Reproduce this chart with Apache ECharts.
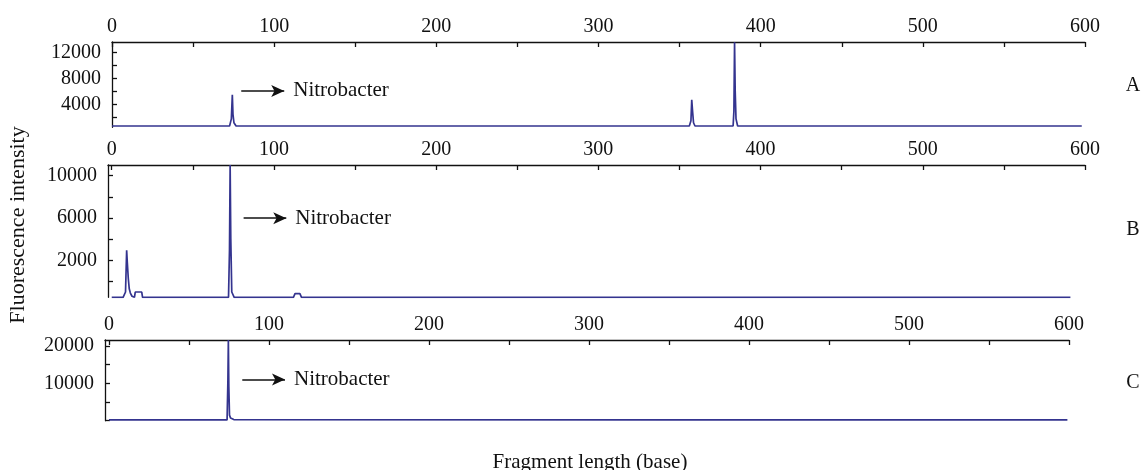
<!DOCTYPE html>
<html>
<head>
<meta charset="utf-8">
<script src="https://cdn.jsdelivr.net/npm/echarts@6/dist/echarts.min.js"></script>
<style>
html,body{margin:0;padding:0;background:#fff;}
#chart{width:1143px;height:470px;}
</style>
</head>
<body>
<div id="chart"></div>
<script>
// ---- Data (fragment length in bases, fluorescence intensity) ----
var lengthA = [0, 43, 44, 45, 72.5, 73.6, 74.2, 74.6, 75.2, 76.5, 356, 357, 357.5, 358, 358.6, 359.5, 383, 383.5, 383.9, 384.3, 384.8, 385.8, 598];
var intensityA = [700, 700, 850, 700, 700, 1800, 5500, 2500, 1200, 700, 700, 1500, 4750, 3000, 1200, 700, 700, 3000, 13600, 6000, 1800, 700, 700];

var lengthB = [0, 7, 8.5, 9.2, 9.6, 10.2, 10.8, 11.5, 12.5, 14, 14.5, 18.5, 19, 72, 72.6, 73, 73.4, 74, 75.5, 112, 113, 116, 117, 132, 133, 190, 191, 591];
var intensityB = [-1500, -1500, -1000, 2950, 1800, 300, -700, -1100, -1400, -1500, -1000, -1000, -1500, -1500, 3000, 11000, 4000, -1000, -1500, -1500, -1150, -1150, -1500, -1500, -1400, -1500, -1420, -1500];

var lengthC = [0, 15, 15.6, 16.2, 23.5, 24, 24.5, 42, 42.6, 43.2, 73.8, 74.3, 74.6, 74.9, 75.3, 76, 77, 78, 79, 355, 356, 357, 599];
var intensityC = [200, 200, 600, 200, 200, 600, 200, 200, 550, 200, 200, 10500, 21600, 9000, 1500, 700, 600, 300, 200, 200, 450, 200, 200];

// tick values
var xTicks = [0, 50, 100, 150, 200, 250, 300, 350, 400, 450, 500, 550, 600];
var xLabels = [0, 100, 200, 300, 400, 500, 600];
var yTicksA = [2000, 4000, 6000, 8000, 10000, 12000];
var yLabelsA = [4000, 8000, 12000];
var yTicksB = [0, 2000, 4000, 6000, 8000, 10000];
var yLabelsB = [2000, 6000, 10000];
var yTicksC = [0, 5000, 10000, 15000, 20000];
var yLabelsC = [10000, 20000];

// annotation arrows (data coords: [x start, x end, y])
var arrowA = [79.7, 106.2, 6100];
var arrowB = [81.3, 107.6, 5970];
var arrowC = [83.3, 110, 11040];
var annotationText = 'Nitrobacter';
var panelNames = ['A', 'B', 'C'];
var yTitle = 'Fluorescence intensity';
var xTitle = 'Fragment length (base)';

function zip(xs, ys) { return xs.map(function (x, i) { return [x, ys[i]]; }); }

var FONT = 'Liberation Serif';
var INK = '#111';
function plain(v) { return String(v); }

function xAxisFor(gi, min) {
  return {
    type: 'value', gridIndex: gi, position: 'top', min: min, max: 600,
    axisLine: { show: true, onZero: false, lineStyle: { color: INK, width: 1.3 } },
    axisTick: { show: true, inside: true, length: 5, customValues: xTicks, lineStyle: { color: INK, width: 1.3 } },
    axisLabel: { show: true, customValues: xLabels, formatter: plain, fontFamily: FONT, fontSize: 20, color: INK, margin: 5 },
    splitLine: { show: false }
  };
}
function yAxisFor(gi, min, max, ticks, labels) {
  return {
    type: 'value', gridIndex: gi, min: min, max: max,
    axisLine: { show: true, onZero: false, lineStyle: { color: INK, width: 1.3 } },
    axisTick: { show: true, inside: true, length: 5, customValues: ticks, lineStyle: { color: INK, width: 1.3 } },
    axisLabel: { show: true, customValues: labels, formatter: plain, fontFamily: FONT, fontSize: 20, color: INK, margin: 11 },
    splitLine: { show: false }
  };
}
function arrowLine(a) {
  return {
    silent: true, symbol: ['none', 'arrow'], symbolSize: [9, 13], animation: false,
    lineStyle: { color: INK, width: 1.6, type: 'solid' },
    label: { show: true, position: 'end', formatter: annotationText, distance: 9, fontFamily: FONT, fontSize: 21, color: INK },
    emphasis: { disabled: true },
    data: [[{ coord: [a[0], a[2]] }, { coord: [a[1], a[2]] }]]
  };
}
function lineSeries(gi, xs, ys, a) {
  return {
    type: 'line', xAxisIndex: gi, yAxisIndex: gi, data: zip(xs, ys),
    showSymbol: false, symbol: 'none', smooth: false,
    lineStyle: { color: '#34348f', width: 1.7 },
    markLine: arrowLine(a)
  };
}
function txt(x, y, s, size, rot) {
  return { type: 'text', x: x, y: y, rotation: rot || 0,
    style: { text: s, fontFamily: FONT, fontSize: size, fill: INK, textAlign: 'center', textVerticalAlign: 'middle' } };
}

var chart = echarts.init(document.getElementById('chart'), null, { renderer: 'canvas' });
chart.setOption({
  animation: false,
  backgroundColor: '#fff',
  grid: [
    { left: 112, right: 58, top: 42, height: 85.3 },
    { left: 108, right: 58, top: 165, height: 132.3 },
    { left: 105, right: 74, top: 340, height: 80.7 }
  ],
  xAxis: [xAxisFor(0, 0), xAxisFor(1, -2.3), xAxisFor(2, -2.5)],
  yAxis: [
    yAxisFor(0, 500, 13650, yTicksA, yLabelsA),
    yAxisFor(1, -1500, 11000, yTicksB, yLabelsB),
    yAxisFor(2, 0, 21600, yTicksC, yLabelsC)
  ],
  series: [
    lineSeries(0, lengthA, intensityA, arrowA),
    lineSeries(1, lengthB, intensityB, arrowB),
    lineSeries(2, lengthC, intensityC, arrowC)
  ],
  graphic: [
    txt(18, 225, yTitle, 22, Math.PI / 2),
    txt(590, 462, xTitle, 21),
    txt(1133, 86, panelNames[0], 20),
    txt(1133, 230, panelNames[1], 20),
    txt(1133, 383, panelNames[2], 20)
  ]
});
</script>
</body>
</html>
